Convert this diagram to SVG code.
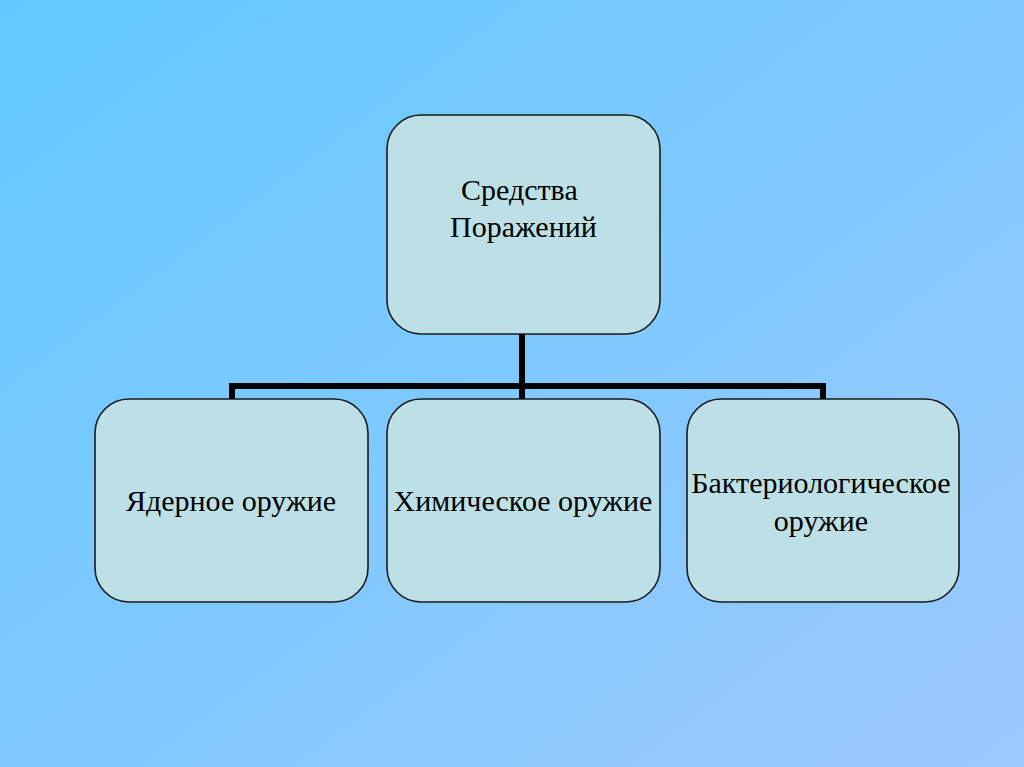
<svg xmlns="http://www.w3.org/2000/svg" width="1024" height="767" viewBox="0 0 1024 767">
<defs>
<linearGradient id="bg" x1="0" y1="0" x2="1" y2="1">
<stop offset="0" stop-color="#62c9fe"/>
<stop offset="1" stop-color="#9dc9ff"/>
</linearGradient>
<style>
.box{fill:#bce0e5;stroke:#1a1a1a;stroke-width:1.6}
.t{font-family:"Liberation Serif","Times New Roman",serif;font-size:30px;fill:#000}
.c{fill:none;stroke:#000;stroke-width:6}
</style>
</defs>
<rect width="1024" height="767" fill="url(#bg)"/>
<g id="connectors">
<path class="c" d="M522 334 V399 M232 399 V386 H823 V399"/>
</g>
<g id="root">
<rect class="box" x="387" y="115" width="273" height="219" rx="34"/>
<text class="t" x="461" y="200">Средства</text>
<text class="t" x="450" y="237">Поражений</text>
</g>
<g id="nuclear">
<rect class="box" x="95" y="399" width="273" height="203" rx="34"/>
<text class="t" x="231" y="511" text-anchor="middle">Ядерное оружие</text>
</g>
<g id="chemical">
<rect class="box" x="387" y="399" width="273" height="203" rx="34"/>
<text class="t" x="523" y="511" text-anchor="middle">Химическое оружие</text>
</g>
<g id="bio">
<rect class="box" x="687" y="399" width="272" height="203" rx="34"/>
<text class="t" x="821" y="493" text-anchor="middle">Бактериологическое</text>
<text class="t" x="821" y="531" text-anchor="middle">оружие</text>
</g>
</svg>
